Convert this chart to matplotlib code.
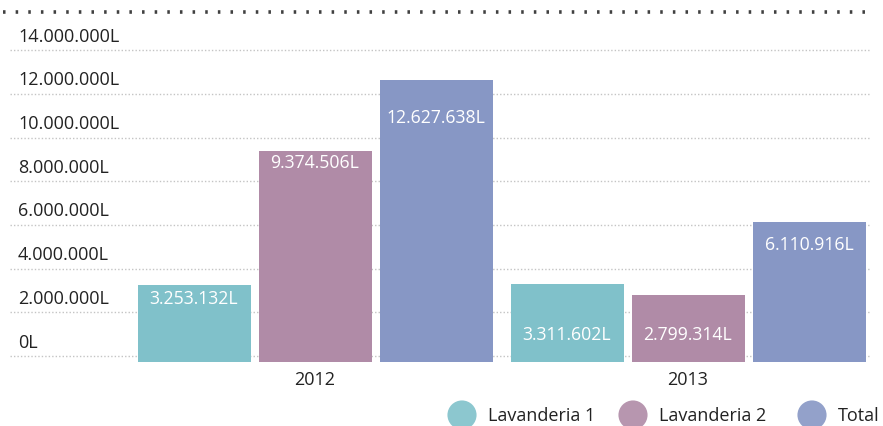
import matplotlib.pyplot as plt
import numpy as np

# data
years = ['2012', '2013']
series = ['Lavanderia 1', 'Lavanderia 2', 'Total']
values = {
    'Lavanderia 1': [3253132, 3311602],
    'Lavanderia 2': [9374506, 2799314],
    'Total': [12627638, 6110916],
}
yticks = [0, 2000000, 4000000, 6000000, 8000000, 10000000, 12000000, 14000000]
colors = {'Lavanderia 1': '#80c1ca', 'Lavanderia 2': '#b08ba7', 'Total': '#8797c5'}
# where the value text sits inside each bar (millions), per year
label_y = {
    'Lavanderia 1': [2.65, 1.0],
    'Lavanderia 2': [8.88, 1.0],
    'Total': [10.94, 5.13],
}

def fmt(v):
    return '{:,}'.format(int(v)).replace(',', '.') + 'L'

plt.rcParams['font.family'] = ['Open Sans', 'DejaVu Sans']
FS = 13

fig = plt.figure(figsize=(8.83, 4.27), dpi=100)
ax = fig.add_axes([0, 0, 1, 1])
# x: group 2012 at 0, 2013 at 1 ; y in millions
ax.set_xlim(-315 / 373, 568 / 373)
ax.set_ylim(-70 / 21.85, 357 / 21.85)
ax.axis('off')

gx0, gx1 = -305 / 373, 555 / 373
for t in yticks:
    ax.hlines(t / 1e6, gx0, gx1, colors='#c4c4c4', lw=1.0,
              linestyles=(0, (1, 1.5)), zorder=1)
    ax.text(-297 / 373, t / 1e6 + 0.66, fmt(t), fontsize=FS, color='#222222',
            va='center', ha='left', zorder=3)

# top dark dotted rule
ax.hlines(344 / 21.85, -312 / 373, 555 / 373, colors='#404040', lw=2.6,
          linestyles=(0, (0.7, 2.8)), zorder=1)

off = 121 / 373
width = 113 / 373
x = np.arange(len(years))
for i, s in enumerate(series):
    vals = np.array(values[s]) / 1e6
    xs = x + (i - 1) * off
    ax.bar(xs, vals + 0.27, bottom=-0.27, width=width, color=colors[s],
           zorder=2, edgecolor='none')
    for xi, v, ly in zip(xs, values[s], label_y[s]):
        ax.text(xi, ly, fmt(v), color='white', fontsize=FS - 0.3,
                ha='center', va='center', zorder=4)

for xi, y in zip(x, years):
    ax.text(xi, -23 / 21.85, y, fontsize=FS, color='#222222',
            ha='center', va='center')

# legend
leg_x = [462, 633, 812]
for px, s in zip(leg_x, series):
    lx = (px - 315) / 373
    ly = -59 / 21.85
    ax.scatter([lx], [ly], s=440, color=colors[s], alpha=0.9,
               edgecolors='none', zorder=3, clip_on=False)
    ax.text(lx + 26 / 373, ly, s, fontsize=FS, color='#222222',
            ha='left', va='center')

fig.savefig('out.png', dpi=100)
